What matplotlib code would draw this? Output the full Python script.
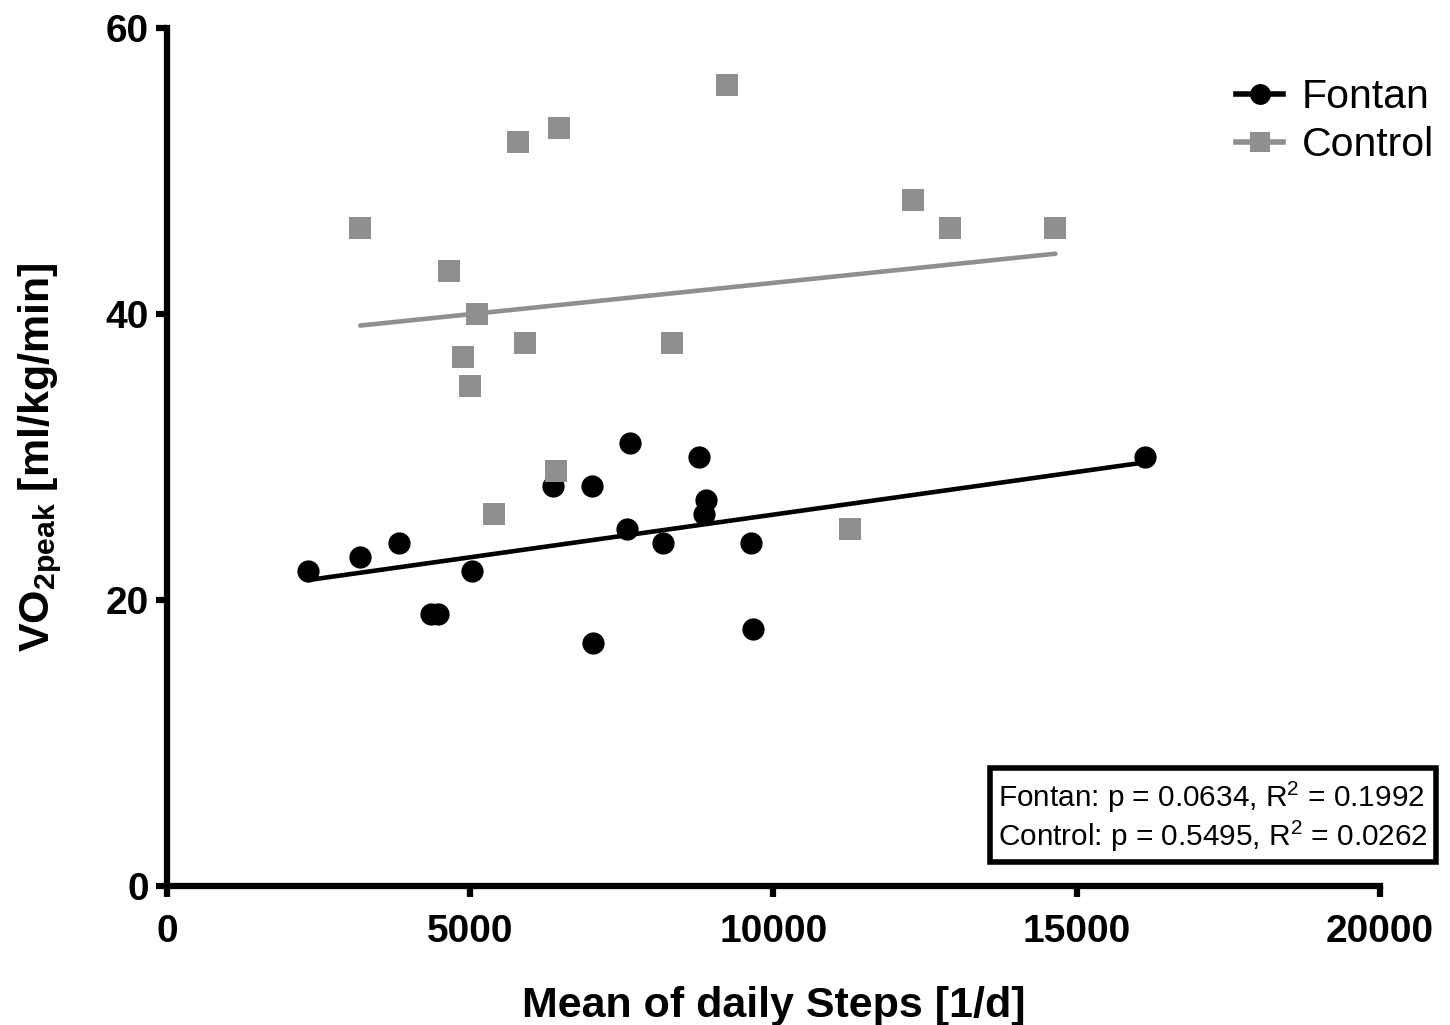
import numpy as np
import matplotlib
matplotlib.use("Agg")
import matplotlib.pyplot as plt
from matplotlib.patches import Rectangle

# ---- data ----
fontan_x = [2325, 3182, 3825, 4345, 4470, 5023, 6359, 7012, 7018, 7634, 7584,
            8178, 8777, 8887, 8859, 9634, 9662, 16125]
fontan_y = [22, 23, 24, 19, 19, 22, 28, 28, 17, 31, 25, 24, 30, 27, 26, 24, 18, 30]

control_x = [3187, 4655, 5117, 4886, 5002, 5908, 5793, 6469, 9238, 8332,
             12306, 12915, 14647, 6419, 5397, 11262]
control_y = [46, 43, 40, 37, 35, 38, 52, 53, 56, 38, 48, 46, 46, 29, 26, 25]

x_ticks = [0, 5000, 10000, 15000, 20000]
y_ticks = [0, 20, 40, 60]
stats_lines = ["Fontan: p = 0.0634, R$^{2}$ = 0.1992",
               "Control: p = 0.5495, R$^{2}$ = 0.0262"]

plt.rcParams['font.family'] = ['Liberation Sans', 'DejaVu Sans']
plt.rcParams['mathtext.fontset'] = 'custom'
plt.rcParams['mathtext.rm'] = 'Liberation Sans'
plt.rcParams['mathtext.bf'] = 'Liberation Sans:bold'
plt.rcParams['mathtext.it'] = 'Liberation Sans:italic'

GREY = '#8f8f8f'

fig = plt.figure(figsize=(14.5, 10.25), dpi=100)
ax = fig.add_axes([167/1450, 1-886/1025, (1380-167)/1450, (886-28)/1025])

def fit_line(x, y):
    x = np.asarray(x, float); y = np.asarray(y, float)
    k, b = np.polyfit(x, y, 1)
    xs = np.array([x.min(), x.max()])
    return xs, k*xs + b

fx, fy = fit_line(fontan_x, fontan_y)
cx, cy = fit_line(control_x, control_y)

ax.plot(fx, fy, color='black', lw=3.3, solid_capstyle='round', zorder=2)
ax.plot(cx, cy, color=GREY, lw=3.3, solid_capstyle='round', zorder=2)
ax.plot(fontan_x, fontan_y, 'o', color='black', ms=16, mew=0, zorder=3)
ax.plot(control_x, control_y, 's', color=GREY, ms=16.5, mew=0, zorder=3)

# legend proxies
ax.plot([], [], '-o', color='black', lw=4, ms=15, mew=0, label='Fontan')
ax.plot([], [], '-s', color=GREY, lw=4, ms=15, mew=0, label='Control')
leg = ax.legend(loc='upper right', bbox_to_anchor=(1.068, 0.975), frameon=False,
                fontsize=29.5, handlelength=1.15, handletextpad=0.45,
                labelspacing=0.25, borderaxespad=0.3)

ax.set_xlim(0, 20000)
ax.set_ylim(0, 60)
ax.set_xticks(x_ticks)
ax.set_yticks(y_ticks)
for s in ['top', 'right']:
    ax.spines[s].set_visible(False)
for s in ['left', 'bottom']:
    ax.spines[s].set_linewidth(4.5)
    ax.spines[s].set_capstyle('projecting')
ax.tick_params(axis='both', direction='out', length=8, width=4.5, labelsize=28)
ax.tick_params(axis='x', pad=12)
ax.tick_params(axis='y', pad=5)
for lab in ax.get_xticklabels() + ax.get_yticklabels():
    lab.set_fontweight('bold')

ax.set_xlabel('Mean of daily Steps [1/d]', fontsize=31, fontweight='bold', labelpad=26)
ax.set_ylabel(r'VO$_{\mathbf{2peak}}$ [ml/kg/min]', fontsize=31, fontweight='bold', labelpad=30)

# stats box
box = Rectangle((990/1450, 1-862/1025), (1436-990)/1450, (862-768)/1025,
                transform=fig.transFigure, fill=False, edgecolor='black',
                lw=4, zorder=5)
fig.patches.append(box)
fig.text(998/1450, 1-797/1025, stats_lines[0], fontsize=21.4, va='center', ha='left')
fig.text(998/1450, 1-836/1025, stats_lines[1], fontsize=21.4, va='center', ha='left')

fig.savefig('out.png', dpi=100)
